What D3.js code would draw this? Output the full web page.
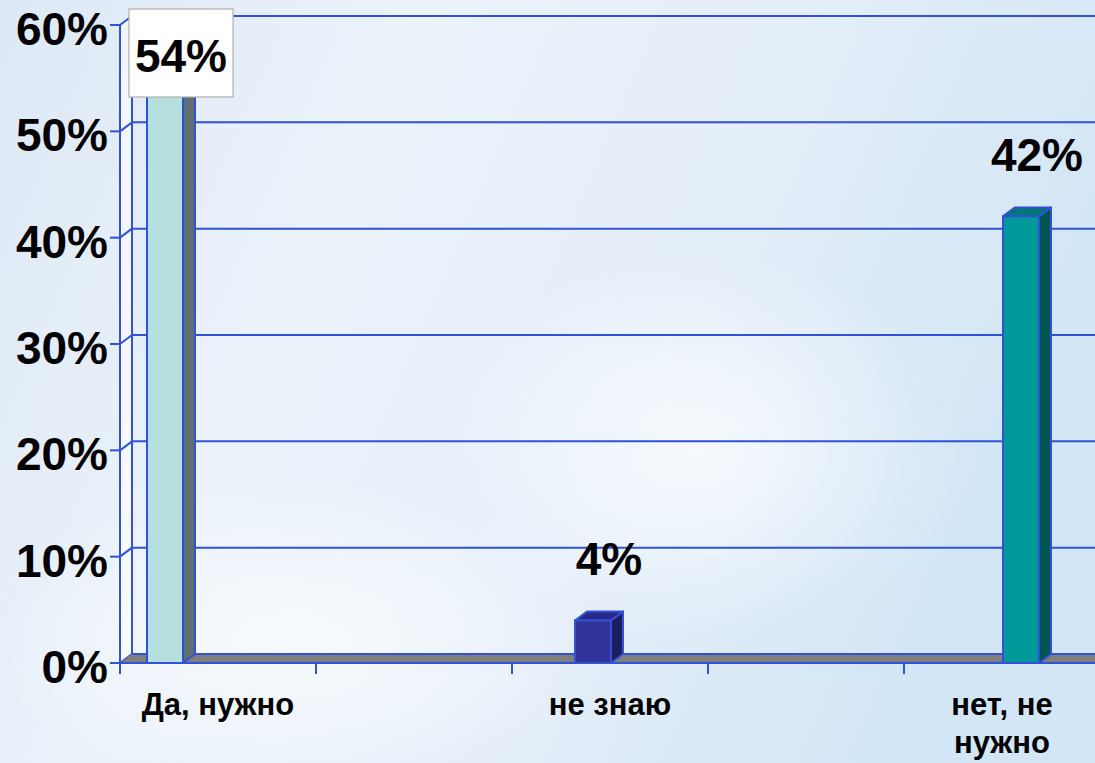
<!DOCTYPE html>
<html>
<head>
<meta charset="utf-8">
<script src="https://cdn.jsdelivr.net/npm/d3@7"></script>
<style>
  html, body { margin: 0; padding: 0; overflow: hidden; }
  body { width: 1095px; height: 763px; }
  text { font-family: "Liberation Sans", Arial, sans-serif; font-weight: bold; fill: #000; }
</style>
</head>
<body>
<svg id="chart" width="1095" height="763"></svg>
<script>
// ---- data ----
const categories = ["Да, нужно", "не знаю", "нет, не нужно"];
const categoryLines = [["Да, нужно"], ["не знаю"], ["нет, не", "нужно"]];
const values = [54, 4, 42];
const valueLabels = ["54%", "4%", "42%"];
const yTickValues = [0, 10, 20, 30, 40, 50, 60];
const yTickLabels = ["0%", "10%", "20%", "30%", "40%", "50%", "60%"];
const slotKeys = ["s0", "s1", "s2", "s3", "s4"];   // axis slots; categories occupy every other slot
const categorySlot = ["s0", "s2", "s4"];
const frontColors = ["#b6dfdf", "#333399", "#009999"];
const sideColors = ["#5f6e70", "#1e1e5e", "#005454"];
const topColors = ["#8fb6b6", "#29298a", "#007676"];

// ---- layout ----
const W = 1095, H = 763;
const DX = 12, DY = -9;            // 3D depth offset
const blue = "#3152d4";
const svg = d3.select("#chart");

// background
const defs = svg.append("defs");
const bg = defs.append("linearGradient").attr("id", "bg").attr("x1", 0).attr("y1", 0).attr("x2", 1).attr("y2", 0.3);
bg.append("stop").attr("offset", "0%").attr("stop-color", "#dde9f6");
bg.append("stop").attr("offset", "35%").attr("stop-color", "#ebf2fa");
bg.append("stop").attr("offset", "70%").attr("stop-color", "#e4eef9");
bg.append("stop").attr("offset", "100%").attr("stop-color", "#d3e6f5");
svg.append("rect").attr("width", W).attr("height", H).attr("fill", "url(#bg)");
const glow = defs.append("radialGradient").attr("id", "glow");
glow.append("stop").attr("offset", "0%").attr("stop-color", "#ffffff").attr("stop-opacity", 0.7);
glow.append("stop").attr("offset", "100%").attr("stop-color", "#ffffff").attr("stop-opacity", 0);
svg.append("ellipse").attr("cx", 300).attr("cy", 640).attr("rx", 320).attr("ry", 160).attr("fill", "url(#glow)");
svg.append("ellipse").attr("cx", 700).attr("cy", 450).attr("rx", 260).attr("ry", 200).attr("fill", "url(#glow)");

// scales
const y = d3.scaleLinear().domain([0, 60]).range([663, 25]);
const xSlot = d3.scaleBand().domain(slotKeys).range([120, 1100]).padding(0);
const xSeries = d3.scaleBand().domain(d3.range(categories.length)).range([27, 135]).padding(0);

const x0 = xSlot.range()[0], x1 = xSlot.range()[1];

// left wall
svg.append("path")
  .attr("d", `M${x0},${y(0)} L${x0},${y(60)} L${x0 + DX},${y(60) + DY} L${x0 + DX},${y(0) + DY} Z`)
  .attr("fill", "rgba(255,255,255,0.55)");

// back wall gridlines
svg.append("g").selectAll("line").data(yTickValues.filter(v => v > 0)).join("line")
  .attr("x1", x0 + DX).attr("x2", x1 + DX)
  .attr("y1", d => y(d) + DY).attr("y2", d => y(d) + DY)
  .attr("stroke", blue).attr("stroke-width", 2);
// back wall left edge
svg.append("line").attr("x1", x0 + DX).attr("x2", x0 + DX)
  .attr("y1", y(0) + DY).attr("y2", y(60) + DY).attr("stroke", blue).attr("stroke-width", 2);
// left wall diagonals
svg.append("g").selectAll("line").data(yTickValues).join("line")
  .attr("x1", x0).attr("y1", d => y(d))
  .attr("x2", x0 + DX).attr("y2", d => y(d) + DY)
  .attr("stroke", blue).attr("stroke-width", 2);

// floor
svg.append("path")
  .attr("d", `M${x0},${y(0)} L${x1},${y(0)} L${x1 + DX},${y(0) + DY} L${x0 + DX},${y(0) + DY} Z`)
  .attr("fill", "#7f7f7f");
svg.append("line").attr("x1", x0 + DX).attr("x2", x1 + DX)
  .attr("y1", y(0) + DY).attr("y2", y(0) + DY).attr("stroke", blue).attr("stroke-width", 2);

// bars
const bars = svg.append("g").selectAll("g").data(values).join("g");
bars.each(function (v, i) {
  const g = d3.select(this);
  const left = xSlot(categorySlot[i]) + xSeries(i);
  const w = xSeries.bandwidth();
  const top = y(v), base = y(0);
  // side
  g.append("path")
    .attr("d", `M${left + w},${base} L${left + w},${top} L${left + w + DX},${top + DY} L${left + w + DX},${base + DY} Z`)
    .attr("fill", sideColors[i]).attr("stroke", blue).attr("stroke-width", 2).attr("stroke-linejoin", "round");
  // top
  g.append("path")
    .attr("d", `M${left},${top} L${left + w},${top} L${left + w + DX},${top + DY} L${left + DX},${top + DY} Z`)
    .attr("fill", topColors[i]).attr("stroke", blue).attr("stroke-width", 2).attr("stroke-linejoin", "round");
  // front
  g.append("rect")
    .attr("x", left).attr("y", top).attr("width", w).attr("height", base - top)
    .attr("fill", frontColors[i]).attr("stroke", blue).attr("stroke-width", 2);
});

// front axis lines
svg.append("line").attr("x1", x0).attr("x2", x0).attr("y1", y(60)).attr("y2", y(0))
  .attr("stroke", blue).attr("stroke-width", 2);
svg.append("line").attr("x1", x0).attr("x2", x1).attr("y1", y(0)).attr("y2", y(0))
  .attr("stroke", blue).attr("stroke-width", 2);

// y ticks + labels
const yAxis = svg.append("g");
yAxis.selectAll("line").data(yTickValues).join("line")
  .attr("x1", x0 - 10).attr("x2", x0).attr("y1", d => y(d)).attr("y2", d => y(d))
  .attr("stroke", blue).attr("stroke-width", 2);
yAxis.selectAll("text").data(yTickValues).join("text")
  .attr("x", x0 - 12).attr("y", d => y(d) + 20)
  .attr("text-anchor", "end").attr("font-size", 46)
  .text((d, i) => yTickLabels[i]);

// x ticks at slot boundaries
svg.append("g").selectAll("line").data(slotKeys).join("line")
  .attr("x1", d => xSlot(d)).attr("x2", d => xSlot(d))
  .attr("y1", y(0)).attr("y2", y(0) + 11)
  .attr("stroke", blue).attr("stroke-width", 2);

// category labels
const catG = svg.append("g").selectAll("text").data(categories).join("text")
  .attr("x", (d, i) => xSlot(categorySlot[i]) + xSlot.bandwidth() / 2)
  .attr("y", y(0) + 52)
  .attr("text-anchor", "middle").attr("font-size", 31);
catG.each(function (d, i) {
  const t = d3.select(this);
  categoryLines[i].forEach((line, k) => {
    t.append("tspan").attr("x", t.attr("x")).attr("dy", k === 0 ? 0 : 38).text(line);
  });
});

// value labels
const labelG = svg.append("g");
values.forEach((v, i) => {
  const left = xSlot(categorySlot[i]) + xSeries(i);
  const cx = left + xSeries.bandwidth() / 2 + 16;
  const minBase = y(60) + 47;
  let by = y(v) - 45;
  const boxed = by < minBase;
  if (boxed) by = minBase;
  const g = labelG.append("g");
  const t = g.append("text").attr("x", cx).attr("y", by)
    .attr("text-anchor", "middle").attr("font-size", 46).text(valueLabels[i]);
  if (boxed) {
    const bb = t.node().getBBox();
    g.insert("rect", "text")
      .attr("x", bb.x - 6).attr("y", bb.y - 21)
      .attr("width", bb.width + 12).attr("height", bb.height + 36)
      .attr("fill", "#ffffff").attr("stroke", "#b0b0b0").attr("stroke-width", 1.2);
  }
});
</script>
</body>
</html>
